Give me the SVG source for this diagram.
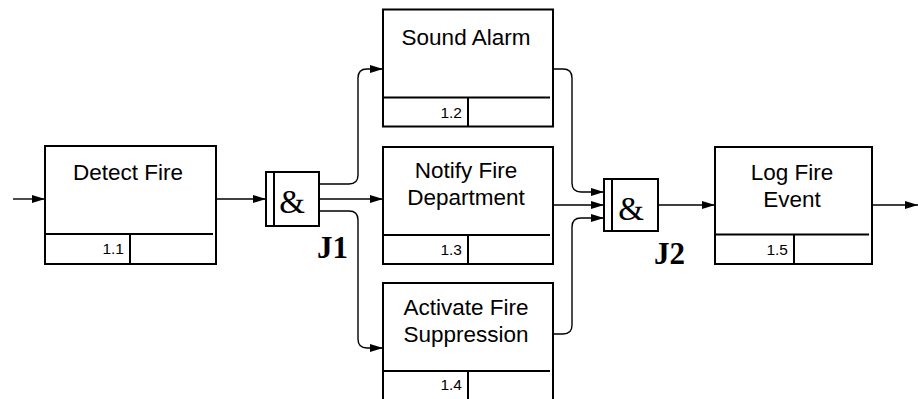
<svg xmlns="http://www.w3.org/2000/svg" width="918" height="399" viewBox="0 0 918 399">
<style>
.box{fill:#fff;stroke:#000;stroke-width:2}
.div{stroke:#000;stroke-width:2;fill:none}
.title{font-family:"Liberation Sans",Arial,sans-serif;font-size:22.5px;text-anchor:middle;fill:#000}
.num{font-family:"Liberation Sans",Arial,sans-serif;font-size:15.5px;text-anchor:end;fill:#000}
.amp{font-family:"Liberation Serif","Times New Roman",serif;font-size:33px;text-anchor:middle;fill:#000}
.jl{font-family:"Liberation Serif","Times New Roman",serif;font-size:31px;font-weight:bold;fill:#000}
.conn{fill:none;stroke:#000;stroke-width:1.4}
</style>
<defs>
<marker id="arr" markerUnits="userSpaceOnUse" markerWidth="13" markerHeight="9" refX="13" refY="4.5" orient="auto">
<path d="M0,0.5 L13,4.5 L0,8.5 z" fill="#000"/>
</marker>
</defs>
<g id="connectors">
<path class="conn" d="M13,199 H45" marker-end="url(#arr)"/>
<path class="conn" d="M216,199 H266" marker-end="url(#arr)"/>
<path class="conn" d="M319,184 H349 Q358,184 358,175 V78 Q358,69 367,69 H383" marker-end="url(#arr)"/>
<path class="conn" d="M319,199 H383" marker-end="url(#arr)"/>
<path class="conn" d="M319,211 H349 Q358,211 358,220 V339 Q358,348 367,348 H383" marker-end="url(#arr)"/>
<path class="conn" d="M553,69 H563 Q572,69 572,78 V183 Q572,192 581,192 H604" marker-end="url(#arr)"/>
<path class="conn" d="M553,205 H604" marker-end="url(#arr)"/>
<path class="conn" d="M553,334 H563 Q572,334 572,325 V227 Q572,218 581,218 H604" marker-end="url(#arr)"/>
<path class="conn" d="M658,205 H715" marker-end="url(#arr)"/>
<path class="conn" d="M872,205 H918" marker-end="url(#arr)"/>
</g>
<g id="node-1-1">
<rect class="box" x="45" y="146" width="171" height="118"/>
<path class="div" d="M45,234 H213 M130,234 V263"/>
<text class="title" x="128" y="180">Detect Fire</text>
<text class="num" x="124" y="254">1.1</text>
</g>
<g id="node-1-2">
<rect class="box" x="383" y="9.5" width="170" height="117"/>
<path class="div" d="M383,97.5 H550 M468,97.5 V126"/>
<text class="title" x="466" y="45">Sound Alarm</text>
<text class="num" x="462" y="118">1.2</text>
</g>
<g id="node-1-3">
<rect class="box" x="383" y="147" width="170" height="117"/>
<path class="div" d="M383,235 H550 M468,235 V263"/>
<text class="title" x="466" y="178">Notify Fire</text>
<text class="title" x="466" y="205">Department</text>
<text class="num" x="462" y="255">1.3</text>
</g>
<g id="node-1-4">
<rect class="box" x="383" y="283" width="170" height="118"/>
<path class="div" d="M383,371 H550 M468,371 V400"/>
<text class="title" x="466" y="315">Activate Fire</text>
<text class="title" x="466" y="342">Suppression</text>
<text class="num" x="462" y="390">1.4</text>
</g>
<g id="node-1-5">
<rect class="box" x="715" y="147" width="157" height="117"/>
<path class="div" d="M715,234.5 H869 M794,234.5 V263"/>
<text class="title" x="792" y="180">Log Fire</text>
<text class="title" x="792" y="207">Event</text>
<text class="num" x="788" y="255">1.5</text>
</g>
<g id="junction-J1">
<rect class="box" x="266" y="172" width="53" height="54"/>
<path class="div" d="M274,172 V226"/>
<text class="amp" x="292" y="213">&amp;</text>
<text class="jl" x="317" y="258">J1</text>
</g>
<g id="junction-J2">
<rect class="box" x="604" y="179" width="54" height="52"/>
<path class="div" d="M612,179 V231"/>
<text class="amp" x="631" y="220">&amp;</text>
<text class="jl" x="654" y="264">J2</text>
</g>
</svg>
